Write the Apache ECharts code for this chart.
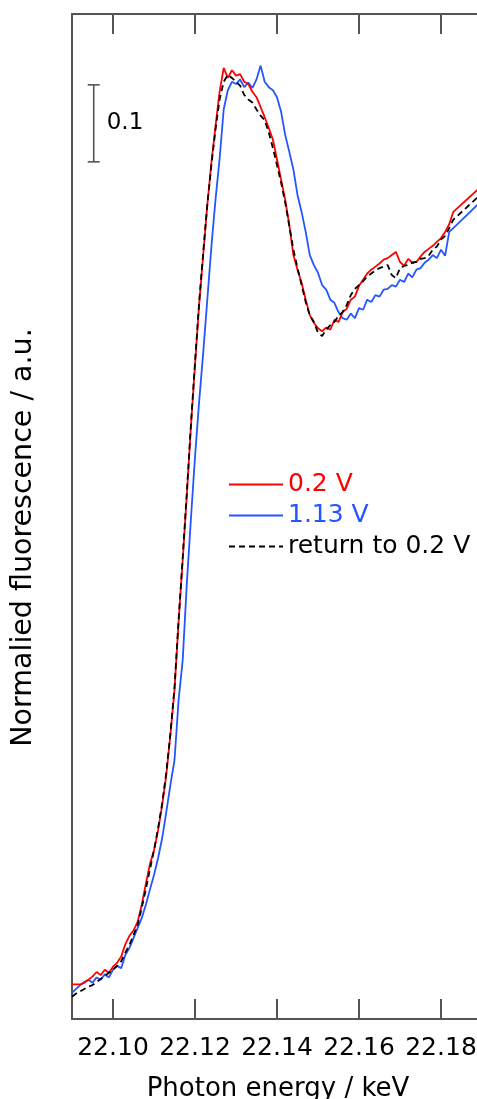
<!DOCTYPE html>
<html>
<head>
<meta charset="utf-8">
<script src="https://cdn.jsdelivr.net/npm/echarts@6/dist/echarts.min.js"></script>
<style>
html,body{margin:0;padding:0;background:#fff;}
#chart{width:477px;height:1099px;}
</style>
</head>
<body>
<div id="chart"></div>
<script>
// Photon energy (keV)
const energy = [
22.090,22.091,22.092,22.093,22.094,22.095,22.096,22.097,22.098,22.099,
22.100,22.101,22.102,22.103,22.104,22.105,22.106,22.107,22.108,22.109,
22.110,22.111,22.112,22.113,22.114,22.115,22.116,22.117,22.118,22.119,
22.120,22.121,22.122,22.123,22.124,22.125,22.126,22.127,22.128,22.129,
22.130,22.131,22.132,22.133,22.134,22.135,22.136,22.137,22.138,22.139,
22.140,22.141,22.142,22.143,22.144,22.145,22.146,22.147,22.148,22.149,
22.150,22.151,22.152,22.153,22.154,22.155,22.156,22.157,22.158,22.159,
22.160,22.161,22.162,22.163,22.164,22.165,22.166,22.167,22.168,22.169,
22.170,22.171,22.172,22.173,22.174,22.175,22.176,22.177,22.178,22.179,
22.180,22.181,22.182,22.183,22.200];

// 0.2 V
const red = [
0.005,0.005,0.005,0.007,0.011,0.015,0.021,0.017,0.024,0.020,
0.028,0.033,0.041,0.057,0.068,0.075,0.086,0.108,0.135,0.161,
0.179,0.205,0.238,0.277,0.329,0.387,0.476,0.556,0.640,0.729,
0.809,0.887,0.952,1.017,1.072,1.119,1.164,1.195,1.182,1.192,
1.185,1.187,1.177,1.174,1.164,1.157,1.144,1.131,1.117,1.102,
1.076,1.050,1.024,0.991,0.952,0.933,0.916,0.894,0.874,0.864,
0.857,0.853,0.858,0.855,0.868,0.865,0.878,0.882,0.894,0.898,
0.912,0.920,0.928,0.933,0.937,0.941,0.946,0.948,0.952,0.956,
0.943,0.938,0.947,0.942,0.943,0.950,0.956,0.960,0.964,0.969,
0.974,0.982,0.992,1.008,1.091];

// 1.13 V
const blue = [
-0.006,-0.001,0.004,0.008,0.011,0.007,0.014,0.011,0.018,0.014,
0.024,0.029,0.026,0.043,0.052,0.065,0.078,0.091,0.108,0.128,
0.147,0.169,0.195,0.229,0.264,0.296,0.374,0.426,0.525,0.609,
0.690,0.761,0.825,0.894,0.963,1.024,1.077,1.141,1.166,1.177,
1.174,1.180,1.170,1.176,1.169,1.180,1.198,1.177,1.170,1.166,
1.157,1.138,1.108,1.086,1.063,1.030,1.008,0.982,0.952,0.939,
0.929,0.913,0.907,0.894,0.890,0.878,0.870,0.868,0.876,0.870,
0.883,0.881,0.894,0.891,0.900,0.898,0.907,0.908,0.913,0.911,
0.920,0.917,0.928,0.923,0.933,0.935,0.942,0.946,0.952,0.948,
0.959,0.951,0.982,0.987,1.074];

// return to 0.2 V
const back = [
-0.011,-0.007,-0.004,-0.001,0.002,0.004,0.008,0.012,0.016,0.020,
0.024,0.029,0.035,0.046,0.056,0.069,0.082,0.104,0.128,0.154,
0.179,0.208,0.240,0.280,0.331,0.390,0.478,0.559,0.643,0.731,
0.812,0.890,0.955,1.017,1.069,1.115,1.154,1.177,1.186,1.182,
1.177,1.172,1.160,1.154,1.150,1.141,1.133,1.127,1.111,1.091,
1.069,1.046,1.020,0.990,0.959,0.935,0.913,0.891,0.874,0.865,
0.851,0.847,0.855,0.861,0.865,0.873,0.878,0.887,0.900,0.908,
0.913,0.918,0.924,0.928,0.932,0.935,0.937,0.939,0.926,0.922,
0.935,0.938,0.939,0.942,0.943,0.947,0.948,0.951,0.959,0.963,
0.972,0.977,0.987,0.998,1.081];

const seriesNames = ['0.2 V', '1.13 V', 'return to 0.2 V'];
const tickValues = [22.10, 22.12, 22.14, 22.16, 22.18, 22.20];
const scaleBar = [[22.0953, 1.073, 1.173]];
const scaleBarLabel = '0.1';

const FONT = 'DejaVu Sans';
const RED = '#ff0000', BLUE = '#2456ff', BLACK = '#000000', FRAME = '#555555';

const chart = echarts.init(document.getElementById('chart'), null, {renderer: 'canvas'});
const pair = arr => energy.map((e, i) => [e, arr[i]]);

const option = {
  animation: false,
  backgroundColor: '#ffffff',
  grid: {left: 72, top: 14, width: 451, height: 1005, containLabel: false, outerBoundsMode: 'none'},
  legend: {
    orient: 'vertical', left: 228, top: 472, padding: 0,
    itemWidth: 54, itemHeight: 14, itemGap: 6,
    selectedMode: false,
    itemStyle: {opacity: 0},
    textStyle: {fontSize: 25, fontFamily: FONT, lineHeight: 25},
    data: [
      {name: seriesNames[0], textStyle: {color: RED}},
      {name: seriesNames[1], textStyle: {color: BLUE}},
      {name: seriesNames[2], textStyle: {color: BLACK}}
    ]
  },
  xAxis: [{
    type: 'value', position: 'bottom', min: 22.09, max: 22.20,
    axisLine: {show: true, onZero: false, lineStyle: {color: FRAME, width: 2}},
    axisTick: {show: true, inside: true, length: 20, customValues: tickValues, lineStyle: {color: FRAME, width: 2}},
    axisLabel: {show: true, customValues: tickValues, margin: 17, fontSize: 25, fontFamily: FONT, color: '#000',
      hideOverlap: false, showMinLabel: true, showMaxLabel: true,
      formatter: v => v.toFixed(2)},
    splitLine: {show: false},
    name: 'Photon energy / keV', nameLocation: 'middle', nameGap: 57,
    nameTextStyle: {fontSize: 26, fontFamily: FONT, color: '#000', padding: [0, 39, 0, 0]}
  }, {
    type: 'value', position: 'top', min: 22.09, max: 22.20,
    axisLine: {show: true, onZero: false, lineStyle: {color: FRAME, width: 2}},
    axisTick: {show: true, inside: true, length: 20, customValues: tickValues, lineStyle: {color: FRAME, width: 2}},
    axisLabel: {show: false},
    splitLine: {show: false}
  }],
  yAxis: {
    type: 'value', min: -0.04, max: 1.265,
    axisLine: {show: true, onZero: false, lineStyle: {color: FRAME, width: 2}},
    axisTick: {show: false}, axisLabel: {show: false}, splitLine: {show: false},
    name: 'Normalied fluorescence / a.u.', nameLocation: 'middle', nameGap: 34, nameRotate: 90,
    nameTextStyle: {fontSize: 28.5, fontFamily: FONT, color: '#000', padding: [0, 42, 0, 0]}
  },
  series: [
    {name: seriesNames[1], type: 'line', data: pair(blue), symbol: 'none', smooth: false,
      lineStyle: {color: BLUE, width: 1.8}, itemStyle: {color: BLUE}, z: 2},
    {name: seriesNames[0], type: 'line', data: pair(red), symbol: 'none', smooth: false,
      lineStyle: {color: RED, width: 1.8}, itemStyle: {color: RED}, z: 3},
    {name: seriesNames[2], type: 'line', data: pair(back), symbol: 'none', smooth: false,
      lineStyle: {color: BLACK, width: 1.8, type: [6, 4]}, itemStyle: {color: BLACK}, z: 4},
    {type: 'custom', data: scaleBar, silent: true, z: 5,
      renderItem: (params, api) => {
        const top = api.coord([api.value(0), api.value(2)]);
        const bot = api.coord([api.value(0), api.value(1)]);
        const st = {stroke: FRAME, lineWidth: 1.6};
        return {type: 'group', children: [
          {type: 'line', shape: {x1: top[0], y1: top[1], x2: bot[0], y2: bot[1]}, style: st},
          {type: 'line', shape: {x1: top[0] - 6, y1: top[1], x2: top[0] + 6, y2: top[1]}, style: st},
          {type: 'line', shape: {x1: bot[0] - 6, y1: bot[1], x2: bot[0] + 6, y2: bot[1]}, style: st},
          {type: 'text', x: top[0] + 13, y: (top[1] + bot[1]) / 2,
            style: {text: scaleBarLabel, fill: '#000', fontSize: 23, fontFamily: FONT, align: 'left', verticalAlign: 'middle'}}
        ]};
      }}
  ]
};
chart.setOption(option);
</script>
</body>
</html>
